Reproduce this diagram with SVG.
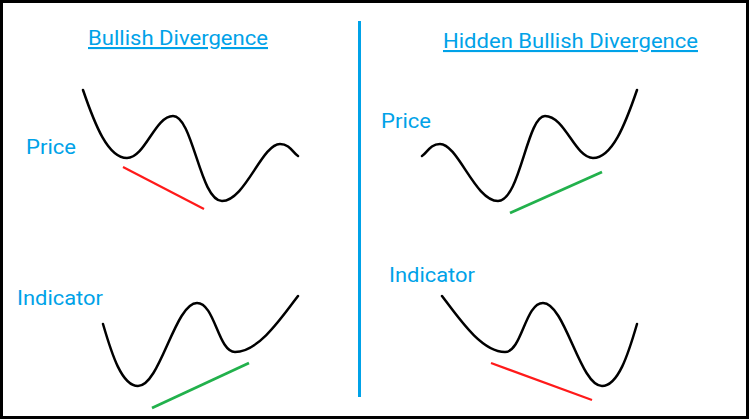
<svg xmlns="http://www.w3.org/2000/svg" width="750" height="420" viewBox="0 0 750 420">
<style>
.lbl{font-family:Roboto,"Liberation Sans",sans-serif;font-size:21px;fill:#00a2e8}
.ttl{font-family:Roboto,"Liberation Sans",sans-serif;font-size:21px;fill:#00a2e8;text-decoration:underline}
.crv{fill:none;stroke:#000;stroke-width:2.5;stroke-linecap:round}
.red{stroke:#ff1a1a;stroke-width:2.2}
.grn{stroke:#22b14c;stroke-width:2.8}
</style>
<rect x="1.5" y="1.5" width="746" height="416" fill="#fff" stroke="#000" stroke-width="3"/>
<g id="divider"><line x1="359.5" y1="21" x2="359.5" y2="397" stroke="#00a2e8" stroke-width="3"/></g>
<g id="title-left"><text class="ttl" x="88" y="45" textLength="180" lengthAdjust="spacingAndGlyphs">Bullish Divergence</text></g>
<g id="title-right"><text class="ttl" x="443" y="48" textLength="255" lengthAdjust="spacingAndGlyphs">Hidden Bullish Divergence</text></g>
<g id="label-price-left"><text class="lbl" x="26" y="154" textLength="50" lengthAdjust="spacingAndGlyphs">Price</text></g>
<g id="label-price-right"><text class="lbl" x="381" y="128" textLength="50" lengthAdjust="spacingAndGlyphs">Price</text></g>
<g id="label-ind-left"><text class="lbl" x="17" y="305" textLength="86" lengthAdjust="spacingAndGlyphs">Indicator</text></g>
<g id="label-ind-right"><text class="lbl" x="389" y="282" textLength="86" lengthAdjust="spacingAndGlyphs">Indicator</text></g>
<g id="price-left"><path class="crv" d="M83,90 C95,125 108,158 127,158 C145,158 155,116 173,116 C193,116 200,201 222,201 C245,201 262,144 280,144 C290,144 293,153 298,156"/></g>
<g id="price-right"><path class="crv" transform="translate(720,0) scale(-1,1)" d="M83,90 C95,125 108,158 127,158 C145,158 155,116 175,116 C193,116 200,201 222,201 C245,201 262,144 280,144 C290,144 293,153 298,156"/></g>
<g id="ind-left"><path class="crv" d="M103,324 C112,355 122,386 138,386 C160,386 175,303 197,303 C215,303 218,352 235,352 C258,352 280,320 298,296"/></g>
<g id="ind-right"><path class="crv" transform="translate(740,0) scale(-1,1)" d="M103,324 C112,355 122,386 138,386 C160,386 175,303 197,303 C215,303 218,352 235,352 C258,352 280,320 298,296"/></g>
<g id="trendlines">
<line class="red" x1="123" y1="167" x2="204" y2="209"/>
<line class="grn" x1="510" y1="213" x2="602" y2="172" stroke-width="3.5"/>
<line class="grn" x1="152" y1="408" x2="249" y2="363"/>
<line class="red" x1="491" y1="363" x2="592" y2="400"/>
</g>
</svg>
